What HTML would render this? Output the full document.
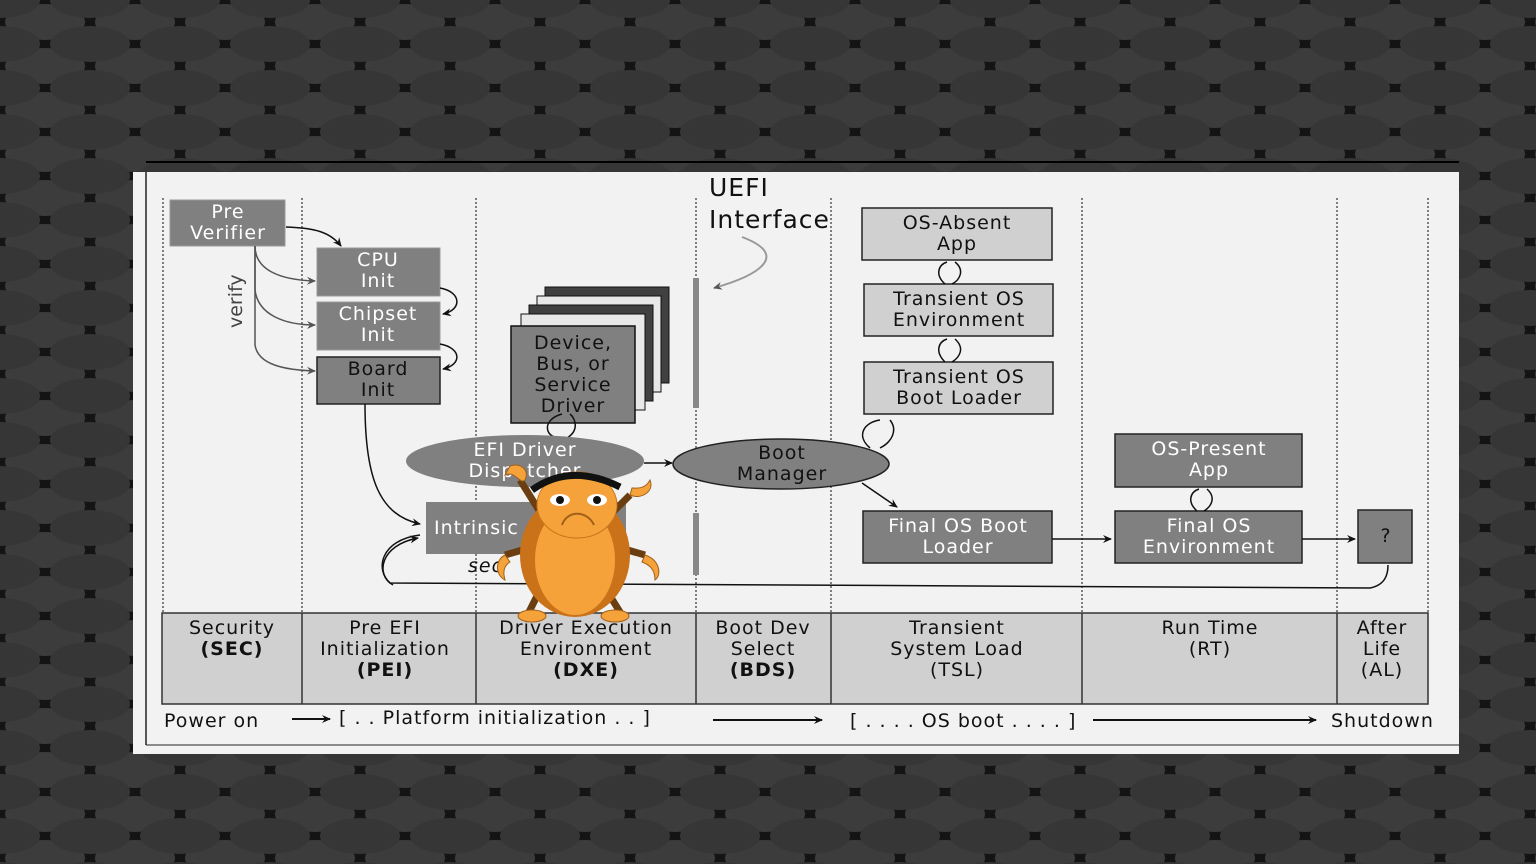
<!DOCTYPE html>
<html><head><style>
html,body{margin:0;padding:0;width:1536px;height:864px;overflow:hidden;background:#222}
svg{display:block}
text{font-family:"DejaVu Sans","Liberation Sans",sans-serif}
.t{font-size:19px;letter-spacing:1px}
</style></head><body>
<svg width="1536" height="864" viewBox="0 0 1536 864" xmlns="http://www.w3.org/2000/svg">
<defs>
<pattern id="bg" width="90" height="44" patternUnits="userSpaceOnUse">
<rect width="90" height="44" fill="#141414"/>
<ellipse cx="45" cy="22" rx="40" ry="18" fill="#3c3c3c"/>
<ellipse cx="0" cy="0" rx="40" ry="18" fill="#363636"/>
<ellipse cx="90" cy="0" rx="40" ry="18" fill="#363636"/>
<ellipse cx="0" cy="44" rx="40" ry="18" fill="#363636"/>
<ellipse cx="90" cy="44" rx="40" ry="18" fill="#363636"/>
</pattern>
<marker id="a" markerWidth="10" markerHeight="10" refX="8" refY="5" orient="auto" markerUnits="userSpaceOnUse"><path d="M0,1 L9,5 L0,9 L3,5z" fill="#111"/></marker>
<marker id="g" markerWidth="10" markerHeight="10" refX="8" refY="5" orient="auto" markerUnits="userSpaceOnUse"><path d="M0,1 L9,5 L0,9 L3,5z" fill="#555"/></marker>
</defs>
<rect width="1536" height="864" fill="url(#bg)"/>
<!-- panel -->
<rect x="146" y="161" width="1313" height="2" fill="#000"/>
<rect x="133" y="172" width="1326" height="582" fill="#f2f2f2"/>
<line x1="146" y1="172" x2="146" y2="745" stroke="#222" stroke-width="1.5"/>
<line x1="146" y1="745" x2="1459" y2="745" stroke="#222" stroke-width="1"/>
<g stroke="#333" stroke-width="1.2" stroke-dasharray="2,2">
<line x1="163" y1="198" x2="163" y2="613"/><line x1="302" y1="198" x2="302" y2="613"/>
<line x1="476" y1="198" x2="476" y2="613"/><line x1="696" y1="198" x2="696" y2="613"/>
<line x1="831" y1="198" x2="831" y2="613"/><line x1="1082" y1="198" x2="1082" y2="613"/>
<line x1="1337" y1="198" x2="1337" y2="613"/><line x1="1428" y1="198" x2="1428" y2="613"/>
</g>
<rect x="162" y="613" width="1266" height="91" fill="#d0d0d0" stroke="#333" stroke-width="1.5"/>
<g stroke="#333" stroke-width="1.5"><line x1="302" y1="613" x2="302" y2="704"/><line x1="476" y1="613" x2="476" y2="704"/><line x1="696" y1="613" x2="696" y2="704"/><line x1="831" y1="613" x2="831" y2="704"/><line x1="1082" y1="613" x2="1082" y2="704"/><line x1="1337" y1="613" x2="1337" y2="704"/></g>
<g class="t" fill="#111" text-anchor="middle">
<text x="232" y="634">Security</text><text x="232" y="655" font-weight="bold">(SEC)</text>
<text x="385" y="634">Pre EFI</text><text x="385" y="655">Initialization</text><text x="385" y="676" font-weight="bold">(PEI)</text>
<text x="586" y="634">Driver Execution</text><text x="586" y="655">Environment</text><text x="586" y="676" font-weight="bold">(DXE)</text>
<text x="763" y="634">Boot Dev</text><text x="763" y="655">Select</text><text x="763" y="676" font-weight="bold">(BDS)</text>
<text x="957" y="634">Transient</text><text x="957" y="655">System Load</text><text x="957" y="676">(TSL)</text>
<text x="1210" y="634">Run Time</text><text x="1210" y="655">(RT)</text>
<text x="1382" y="634">After</text><text x="1382" y="655">Life</text><text x="1382" y="676">(AL)</text>
</g>
<g class="t" fill="#111">
<text x="164" y="727">Power on</text>
<text x="339" y="724">[ . . Platform initialization . . ]</text>
<text x="850" y="727">[ . . . . OS boot . . . . ]</text>
<text x="1331" y="727">Shutdown</text>
</g>
<g stroke="#111" stroke-width="2" marker-end="url(#a)"><line x1="292" y1="719" x2="330" y2="719"/><line x1="713" y1="720" x2="822" y2="720"/><line x1="1093" y1="720" x2="1316" y2="720"/></g>
<text x="709" y="196" font-size="25" fill="#111" letter-spacing="1">UEFI</text>
<text x="709" y="228" font-size="25" fill="#111" letter-spacing="1">Interface</text>
<path d="M742,237 C790,255 760,275 714,288" fill="none" stroke="#999" stroke-width="2" marker-end="url(#g)"/>
<rect x="693" y="278" width="6" height="130" fill="#888"/>
<rect x="693" y="513" width="6" height="62" fill="#888"/>
<g class="t" text-anchor="middle">
<rect x="170" y="200" width="115" height="46" fill="#808080" stroke="#999"/><text x="228" y="218" fill="#fff">Pre</text><text x="228" y="239" fill="#fff">Verifier</text>
<rect x="317" y="248" width="123" height="48" fill="#808080" stroke="#999"/><text x="378" y="266" fill="#fff">CPU</text><text x="378" y="287" fill="#fff">Init</text>
<rect x="317" y="302" width="123" height="48" fill="#808080" stroke="#999"/><text x="378" y="320" fill="#fff">Chipset</text><text x="378" y="341" fill="#fff">Init</text>
<rect x="317" y="357" width="123" height="47" fill="#808080" stroke="#222" stroke-width="1.5"/><text x="378" y="375" fill="#111">Board</text><text x="378" y="396" fill="#111">Init</text>
</g>
<text transform="translate(242,328) rotate(-90)" font-size="19" fill="#444">verify</text>
<g fill="none" stroke="#555" stroke-width="1.5" marker-end="url(#g)">
<path d="M255,246 C255,270 280,280 315,281"/><path d="M255,246 L255,290 C258,315 285,325 315,325"/><path d="M255,246 L255,345 C258,365 285,370 315,371"/>
</g>
<g fill="none" stroke="#111" stroke-width="1.5" marker-end="url(#a)">
<path d="M286,227 C315,228 330,232 341,246"/>
<path d="M440,288 C462,292 462,310 443,314"/><path d="M440,344 C462,348 462,365 443,369"/>
<path d="M365,404 C365,480 380,515 420,524"/>
<path d="M420,535 C380,540 375,570 390,583 L1370,588 C1385,585 1388,575 1388,565" marker-end="none"/>
<path d="M393,585 C375,575 380,545 418,538"/>
</g>
<rect x="545" y="287" width="124" height="96" fill="#404040" stroke="#111"/>
<rect x="537" y="296" width="124" height="96" fill="#e8e8e8" stroke="#111"/>
<rect x="529" y="305" width="124" height="96" fill="#404040" stroke="#111"/>
<rect x="521" y="314" width="124" height="96" fill="#e8e8e8" stroke="#111"/>
<rect x="511" y="326" width="124" height="97" fill="#808080" stroke="#111" stroke-width="1.5"/>
<g class="t" text-anchor="middle" fill="#111"><text x="573" y="349">Device,</text><text x="573" y="370">Bus, or</text><text x="573" y="391">Service</text><text x="573" y="412">Driver</text></g>
<path d="M562,414 C540,420 545,440 563,438 M567,438 C580,430 575,418 570,414" fill="none" stroke="#111" stroke-width="1.5"/>
<ellipse cx="525" cy="461" rx="119" ry="26" fill="#808080"/>
<text class="t" x="525" y="456" fill="#fff" text-anchor="middle">EFI Driver</text>
<text class="t" x="525" y="477" fill="#fff" text-anchor="middle">Dispatcher</text>
<line x1="644" y1="463" x2="672" y2="463" stroke="#111" stroke-width="1.5" marker-end="url(#a)"/>
<ellipse cx="781" cy="464" rx="108" ry="25" fill="#808080" stroke="#222" stroke-width="1.5"/>
<text class="t" x="782" y="459" fill="#111" text-anchor="middle">Boot</text>
<text class="t" x="782" y="480" fill="#111" text-anchor="middle">Manager</text>
<line x1="862" y1="483" x2="897" y2="507" stroke="#111" stroke-width="1.5" marker-end="url(#a)"/>
<path d="M870,448 C855,435 865,422 880,420 M890,420 C898,430 892,442 880,448" fill="none" stroke="#111" stroke-width="1.5"/>
<rect x="426" y="502" width="200" height="52" fill="#808080"/>
<text class="t" x="434" y="534" fill="#fff">Intrinsic</text>
<text class="t" x="468" y="572" font-style="italic" fill="#111">sec</text>
<g class="t" text-anchor="middle">
<rect x="862" y="208" width="190" height="52" fill="#d0d0d0" stroke="#222" stroke-width="1.5"/><text x="957" y="229" fill="#111">OS-Absent</text><text x="957" y="250" fill="#111">App</text>
<rect x="864" y="284" width="189" height="52" fill="#d0d0d0" stroke="#222" stroke-width="1.5"/><text x="959" y="305" fill="#111">Transient OS</text><text x="959" y="326" fill="#111">Environment</text>
<rect x="864" y="362" width="189" height="52" fill="#d0d0d0" stroke="#222" stroke-width="1.5"/><text x="959" y="383" fill="#111">Transient OS</text><text x="959" y="404" fill="#111">Boot Loader</text>
<rect x="863" y="511" width="189" height="52" fill="#808080" stroke="#222" stroke-width="1.5"/><text x="958" y="532" fill="#fff">Final OS Boot</text><text x="958" y="553" fill="#fff">Loader</text>
<rect x="1115" y="434" width="187" height="53" fill="#808080" stroke="#222" stroke-width="1.5"/><text x="1209" y="455" fill="#fff">OS-Present</text><text x="1209" y="476" fill="#fff">App</text>
<rect x="1115" y="511" width="187" height="52" fill="#808080" stroke="#222" stroke-width="1.5"/><text x="1209" y="532" fill="#fff">Final OS</text><text x="1209" y="553" fill="#fff">Environment</text>
<rect x="1358" y="510" width="54" height="53" fill="#808080" stroke="#222" stroke-width="1.5"/><text x="1386" y="542" fill="#111">?</text>
</g>
<g fill="none" stroke="#111" stroke-width="1.5">
<path d="M945,284 C935,275 938,265 947,262 M955,262 C965,270 960,280 952,284"/>
<path d="M945,362 C935,352 938,342 947,339 M955,339 C965,348 960,357 952,362"/>
<path d="M1197,511 C1187,502 1190,492 1199,489 M1207,489 C1216,497 1212,506 1204,511"/>
</g>
<g stroke="#111" stroke-width="1.5" marker-end="url(#a)"><line x1="1052" y1="539" x2="1111" y2="539"/><line x1="1302" y1="539" x2="1355" y2="539"/></g>
<g>
<g stroke="#6b3e12" stroke-width="7">
<line x1="545" y1="580" x2="525" y2="620"/><line x1="600" y1="580" x2="625" y2="620"/>
<line x1="540" y1="545" x2="505" y2="555"/><line x1="610" y1="545" x2="645" y2="555"/>
<line x1="545" y1="520" x2="520" y2="480"/><line x1="605" y1="520" x2="630" y2="495"/>
</g>
<ellipse cx="575" cy="555" rx="55" ry="62" fill="#c9721a"/>
<ellipse cx="575" cy="560" rx="40" ry="55" fill="#f5a23a"/>
<ellipse cx="577" cy="505" rx="40" ry="33" fill="#f5a23a" stroke="#c9721a"/>
<path d="M532,490 C560,470 590,472 620,487" stroke="#111" stroke-width="7" fill="none"/>
<ellipse cx="560" cy="500" rx="10" ry="6" fill="#fff"/><ellipse cx="597" cy="500" rx="10" ry="6" fill="#fff"/>
<circle cx="560" cy="500" r="4" fill="#111"/><circle cx="597" cy="500" r="4" fill="#111"/>
<path d="M562,525 C567,510 587,510 594,525" stroke="#a0601a" stroke-width="2" fill="none"/>
<g fill="#f5a23a" stroke="#a0601a" stroke-width="1">
<path d="M505,475 C515,470 520,485 525,480 C530,470 520,462 510,466z"/>
<path d="M630,495 C640,500 655,492 650,480 C645,490 635,488 632,488z"/>
<path d="M505,555 C495,560 495,575 505,580 C502,570 505,565 510,562z"/>
<path d="M645,555 C660,560 662,575 655,580 C655,570 650,565 642,562z"/>
<ellipse cx="532" cy="616" rx="14" ry="6"/><ellipse cx="615" cy="616" rx="14" ry="6"/>
</g>
</g>
</svg>
</body></html>
